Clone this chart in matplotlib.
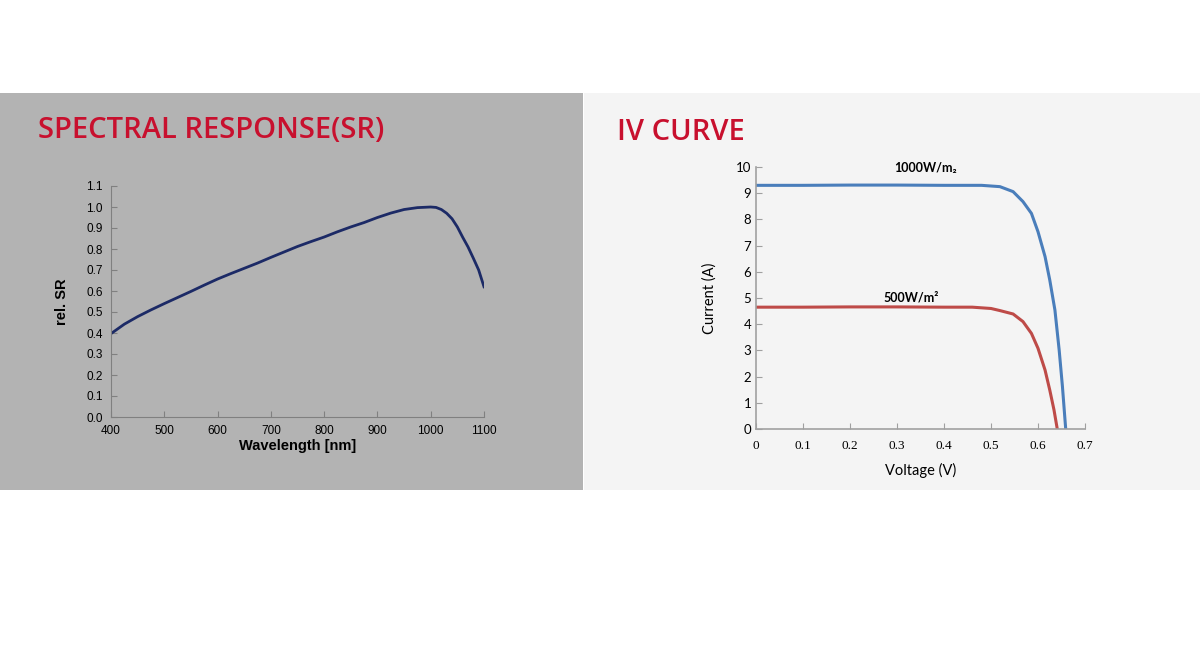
import numpy as np
import matplotlib
matplotlib.use("Agg")
import matplotlib.pyplot as plt
from matplotlib.patches import Rectangle

# spectral response data
wavelength = [400, 425, 450, 475, 500, 525, 550, 575, 600, 625, 650, 675, 700, 725, 750, 775,
              800, 825, 850, 875, 900, 925, 950, 975, 1000, 1010, 1020, 1030, 1040, 1050,
              1060, 1070, 1080, 1090, 1100]
rel_sr = [0.397, 0.442, 0.478, 0.510, 0.540, 0.569, 0.598, 0.628, 0.657, 0.683, 0.708, 0.733,
          0.760, 0.786, 0.812, 0.835, 0.857, 0.882, 0.905, 0.926, 0.950, 0.971, 0.988, 0.997,
          1.0, 0.998, 0.988, 0.970, 0.944, 0.905, 0.856, 0.810, 0.756, 0.700, 0.62]

# IV curves
v_1000 = [0.0, 0.1, 0.2, 0.3, 0.4, 0.48, 0.519, 0.547, 0.568, 0.586, 0.600, 0.615, 0.625,
          0.636, 0.645, 0.652, 0.658, 0.659]
i_1000 = [9.3, 9.3, 9.31, 9.31, 9.3, 9.3, 9.25, 9.06, 8.68, 8.23, 7.53, 6.58, 5.69,
          4.54, 3.02, 1.62, 0.22, 0.0]
v_500 = [0.0, 0.1, 0.2, 0.3, 0.4, 0.46, 0.50, 0.519, 0.547, 0.568, 0.586, 0.600, 0.615,
         0.625, 0.634, 0.641]
i_500 = [4.65, 4.65, 4.66, 4.66, 4.65, 4.65, 4.6, 4.52, 4.39, 4.10, 3.65, 3.08, 2.25,
         1.49, 0.73, 0.0]

sr_ticks_x = [400, 500, 600, 700, 800, 900, 1000, 1100]
sr_ticks_y = [0.0, 0.1, 0.2, 0.3, 0.4, 0.5, 0.6, 0.7, 0.8, 0.9, 1.0, 1.1]
iv_ticks_x = [0, 0.1, 0.2, 0.3, 0.4, 0.5, 0.6, 0.7]
iv_ticks_y = list(range(0, 11))

fig = plt.figure(figsize=(12, 6.54), dpi=100)
fig.patch.set_facecolor("white")

# panel backgrounds
fig.patches.append(Rectangle((0, 1 - 490/654), 583/1200, (490-93)/654,
                             transform=fig.transFigure, facecolor="#b3b3b3", edgecolor="none", zorder=-5))
fig.patches.append(Rectangle((584/1200, 1 - 490/654), (1200-584)/1200, (490-93)/654,
                             transform=fig.transFigure, facecolor="#f4f4f4", edgecolor="none", zorder=-5))

red = "#c8102e"
fig.text(38/1200, 1 - 131/654, "SPECTRAL RESPONSE(SR)", color=red, fontsize=21,
         family="Open Sans", fontweight="semibold", va="center", ha="left")
fig.text(617/1200, 1 - 132/654, "IV CURVE", color=red, fontsize=21,
         family="Open Sans", fontweight="semibold", va="center", ha="left")

# left chart
ax1 = fig.add_axes([111/1200, 1 - 417/654, (484-111)/1200, (417-186)/654])
ax1.patch.set_alpha(0)
ax1.plot(wavelength, rel_sr, color="#1c2a66", lw=2)
ax1.set_xlim(400, 1100)
ax1.set_ylim(0, 1.1)
ax1.set_xticks(sr_ticks_x)
ax1.set_yticks(sr_ticks_y)
ax1.set_yticklabels([f"{t:.1f}" for t in sr_ticks_y])
for s in ["top", "right"]:
    ax1.spines[s].set_visible(False)
for s in ["left", "bottom"]:
    ax1.spines[s].set_color("#808080")
ax1.tick_params(direction="in", length=4, color="#808080", labelsize=8.5, pad=6)
for lab in ax1.get_xticklabels() + ax1.get_yticklabels():
    lab.set_family("Liberation Sans")
ax1.set_xlabel("Wavelength [nm]", fontsize=10.5, fontweight="bold", family="Liberation Sans", labelpad=1)
ax1.set_ylabel("rel. SR", fontsize=10.5, fontweight="bold", family="Liberation Sans", labelpad=12)

# right chart
ax2 = fig.add_axes([756/1200, 1 - 429/654, (1085-756)/1200, (429-167)/654])
ax2.patch.set_alpha(0)
ax2.plot(v_1000, i_1000, color="#4a7ebb", lw=2.2)
ax2.plot(v_500, i_500, color="#be4b48", lw=2.2)
ax2.set_xlim(0, 0.7)
ax2.set_ylim(0, 10)
ax2.set_xticks(iv_ticks_x)
ax2.set_xticklabels(["0"] + [f"{t:.1f}" for t in iv_ticks_x[1:]])
ax2.set_yticks(iv_ticks_y)
for s in ["top", "right"]:
    ax2.spines[s].set_visible(False)
for s in ["left", "bottom"]:
    ax2.spines[s].set_color("#a0a0a0")
    ax2.spines[s].set_linewidth(1.2)
ax2.tick_params(direction="in", length=4, color="#a0a0a0", labelsize=9.5)
ax2.tick_params(axis="x", pad=8)
for lab in ax2.get_xticklabels():
    lab.set_family("Liberation Serif")
for lab in ax2.get_yticklabels():
    lab.set_family("Lato")
ax2.set_xlabel("Voltage (V)", fontsize=10.5, family="Lato", labelpad=8)
ax2.set_ylabel("Current (A)", fontsize=10.5, family="Lato", labelpad=14)
ax2.text(0.36, 9.96, "1000W/m\u2082", fontsize=9, fontweight="bold", family="Lato", ha="center", va="center")
ax2.text(0.33, 5.0, "500W/m\u00b2", fontsize=9, fontweight="bold", family="Lato", ha="center", va="center")

fig.savefig("out.png", dpi=100)
